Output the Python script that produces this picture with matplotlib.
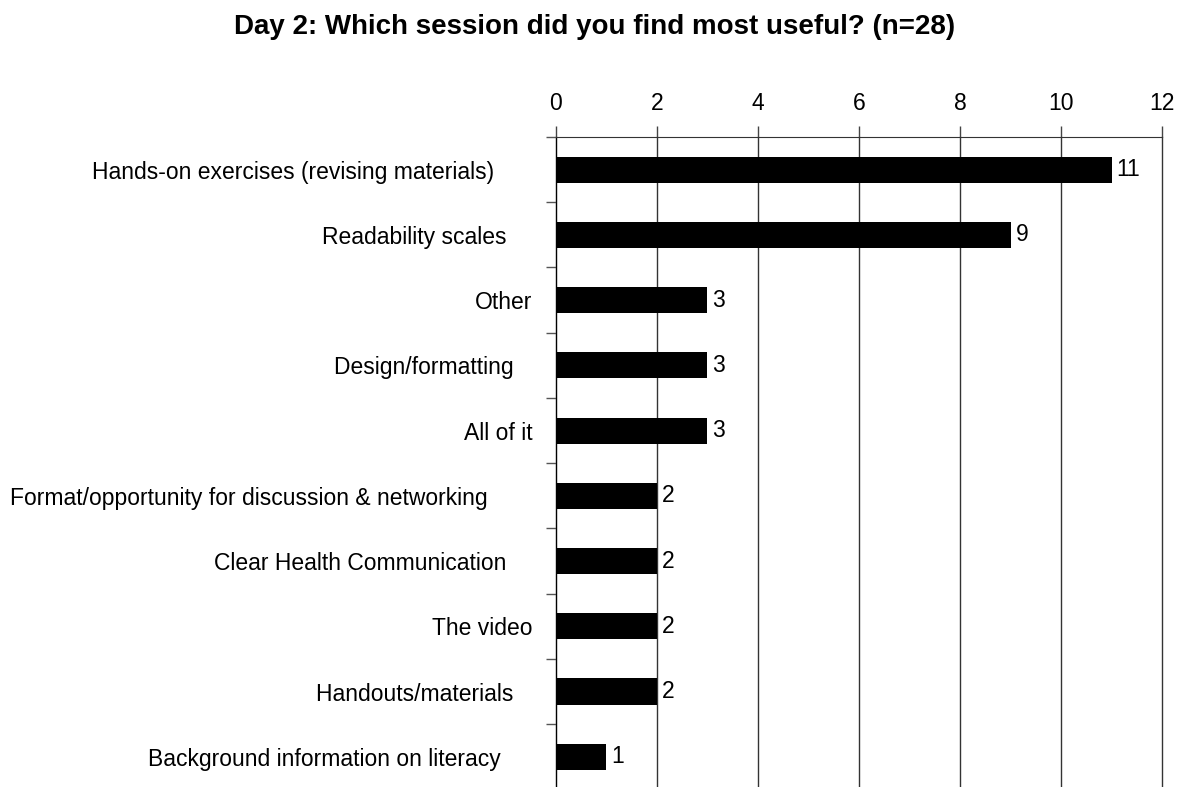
import numpy as np
import matplotlib.pyplot as plt
from matplotlib.ticker import FixedLocator, MultipleLocator

plt.rcParams['font.family'] = ['Liberation Sans', 'DejaVu Sans']

# Survey answers, top to bottom
sessions = [
    "Hands-on exercises (revising materials)      ",
    "Readability scales    ",
    "Other",
    "Design/formatting   ",
    "All of it",
    "Format/opportunity for discussion & networking       ",
    "Clear Health Communication    ",
    "The video",
    "Handouts/materials   ",
    "Background information on literacy     ",
]
counts = [11, 9, 3, 3, 3, 2, 2, 2, 2, 1]
title = "Day 2: Which session did you find most useful? (n=28)"

fig = plt.figure(figsize=(11.89, 7.87), dpi=100)
ax = fig.add_axes([0.4676, -0.003, 0.5097, 0.8289])

y = np.arange(len(sessions))
bars = ax.barh(y, counts, height=0.40, color='black', zorder=3)
for b, v in zip(bars, counts):
    ax.text(b.get_width() + 0.1, b.get_y() + b.get_height() / 2, str(v),
            va='center', ha='left', fontsize=16.5, zorder=4)

ax.set_xlim(0, 12)
ax.set_ylim(len(sessions) - 0.5, -0.5)
ax.xaxis.set_major_locator(MultipleLocator(2))
ax.xaxis.tick_top()
ax.tick_params(axis='x', which='major', length=8, width=1, color='#444444',
               labelsize=16.5, pad=8)
ax.grid(axis='x', color='#333333', linewidth=1, zorder=1)
for gl in ax.get_xgridlines():
    gl.set_clip_on(False)

ax.set_yticks(y)
ax.set_yticklabels(sessions)
ax.yaxis.set_minor_locator(FixedLocator(np.arange(-0.5, len(sessions) + 0.5, 1)))
ax.tick_params(axis='y', which='major', length=0, labelsize=16.5, pad=17)
ax.tick_params(axis='y', which='minor', length=7, width=1, color='#555555')

for side in ['right', 'bottom']:
    ax.spines[side].set_visible(False)
ax.spines['top'].set_color('#333333')
ax.spines['left'].set_color('black')

fig.text(0.5, 0.966, title, ha='center', va='center', fontsize=20,
         fontweight='bold')

fig.savefig('out.png', dpi=100)
